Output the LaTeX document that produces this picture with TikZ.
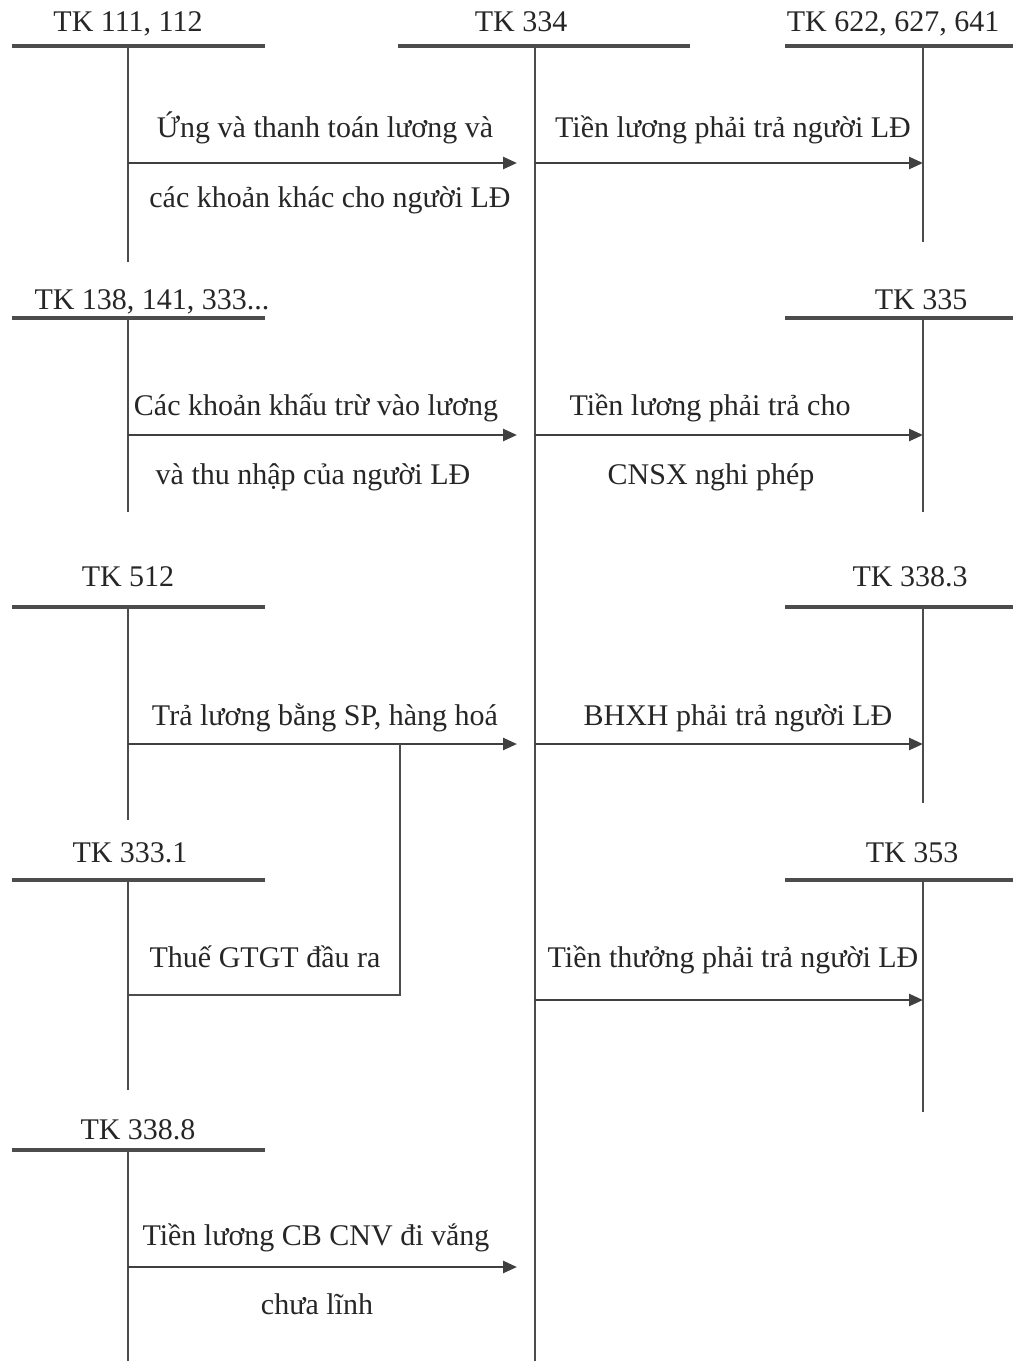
\documentclass[tikz,border=0pt]{standalone}
\usepackage{fontspec}
\setmainfont{Liberation Serif}
\usetikzlibrary{arrows.meta}
\tikzset{
  ngang/.style={line width=1.6pt, black!70},
  doc/.style={line width=1.3pt, black!70},
  muiten/.style={line width=1.3pt, black!75, -{Triangle[length=7pt,width=6pt]}},
  chu/.style={anchor=base, inner sep=0pt, text=black!85, font=\fontsize{15}{18}\selectfont}
}
\newcommand{\chuT}[6]{\coordinate (#1) at (#2,#3);
  \draw[ngang] (#5,#3) -- (#6,#3);
  \draw[doc] (#1) -- (#2,#4);}

\begin{document}
\begin{tikzpicture}[x=0.5pt,y=-0.5pt]
	\useasboundingbox (0,0) rectangle (1013,1361);
	\chuT{t111}{128}{46}{262}{12}{265}
	\chuT{t334}{535}{46}{1361}{398}{690}
	\chuT{t622}{923}{46}{242}{785}{1013}
	\chuT{t138}{128}{318}{512}{12}{265}
	\chuT{t335}{923}{318}{512}{785}{1013}
	\chuT{t512}{128}{607}{820}{12}{265}
	\chuT{t3383}{923}{607}{803}{785}{1013}
	\chuT{t3331}{128}{880}{1090}{12}{265}
	\chuT{t353}{923}{880}{1112}{785}{1013}
	\chuT{t3388}{128}{1150}{1361}{12}{265}
	\node[chu] (n111) at (128,31) {TK 111, 112};
	\node[chu] (n334) at (521,31) {TK 334};
	\node[chu] (n622) at (893,31) {TK 622, 627, 641};
	\node[chu] (n138) at (152,309) {TK 138, 141, 333...};
	\node[chu] (n335) at (921,309) {TK 335};
	\node[chu] (n512) at (128,586) {TK 512};
	\node[chu] (n3383) at (910,586) {TK 338.3};
	\node[chu] (n3331) at (130,862) {TK 333.1};
	\node[chu] (n353) at (912,862) {TK 353};
	\node[chu] (n3388) at (138,1139) {TK 338.8};
	\coordinate (a1) at (t111 |- 0,163);
	\coordinate (b1) at (t334 |- 0,163);
	\coordinate (c1) at (t622 |- 0,163);
	\coordinate (a2) at (t138 |- 0,435);
	\coordinate (b2) at (t334 |- 0,435);
	\coordinate (c2) at (t335 |- 0,435);
	\coordinate (a3) at (t512 |- 0,744);
	\coordinate (b3) at (t334 |- 0,744);
	\coordinate (c3) at (t3383 |- 0,744);
	\coordinate (r3) at (400,744);
	\coordinate (a4) at (t3331 |- 0,995);
	\coordinate (b4) at (t334 |- 0,1000);
	\coordinate (c4) at (t353 |- 0,1000);
	\coordinate (a5) at (t3388 |- 0,1267);
	\coordinate (b5) at (t334 |- 0,1267);
	\draw[muiten, shorten >=9pt] (a1) -- (b1);
	\draw[muiten] (b1) -- (c1);
	\draw[muiten, shorten >=9pt] (a2) -- (b2);
	\draw[muiten] (b2) -- (c2);
	\draw[muiten, shorten >=9pt] (a3) -- (b3);
	\draw[muiten] (b3) -- (c3);
	\draw[doc] (r3) |- (a4);
	\draw[muiten] (b4) -- (c4);
	\draw[muiten, shorten >=9pt] (a5) -- (b5);
	\node[chu] (g1) at (325,137) {Ứng và thanh toán lương và};
	\node[chu] (g1b) at (330,207) {các khoản khác cho người LĐ};
	\node[chu] (h1) at (733,137) {Tiền lương phải trả người LĐ};
	\node[chu] (g2) at (316,415) {Các khoản khấu trừ vào lương};
	\node[chu] (g2b) at (313,484) {và thu nhập của người LĐ};
	\node[chu] (h2) at (710,415) {Tiền lương phải trả cho};
	\node[chu] (h2b) at (711,484) {CNSX nghi phép};
	\node[chu] (g3) at (325,725) {Trả lương bằng SP, hàng hoá};
	\node[chu] (h3) at (738,725) {BHXH phải trả người LĐ};
	\node[chu] (g4) at (265,967) {Thuế GTGT đầu ra};
	\node[chu] (h4) at (733,967) {Tiền thưởng phải trả người LĐ};
	\node[chu] (g5) at (316,1245) {Tiền lương CB CNV đi vắng};
	\node[chu] (g5b) at (317,1314) {chưa lĩnh};
\end{tikzpicture}
\end{document}
